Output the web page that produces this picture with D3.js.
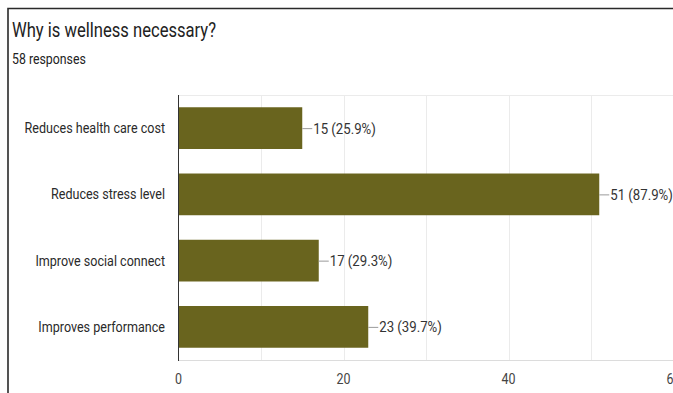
<!DOCTYPE html>
<html><head><meta charset="utf-8">
<script src="https://cdn.jsdelivr.net/npm/d3@7"></script>
<style>
html,body{margin:0;padding:0;background:#fff;overflow:hidden}
text{font-family:Roboto, "Noto Sans", sans-serif}
</style></head>
<body><svg id="c" width="673" height="393"></svg>
<script>
const categories = ["Reduces health care cost","Reduces stress level","Improve social connect","Improves performance"];
const counts = [15, 51, 17, 23];
const percents = ["25.9%","87.9%","29.3%","39.7%"];
const tickValues = [0, 20, 40, 60];
const gridValues = [0,10,20,30,40,50,60];
const title = "Why is wellness necessary?";
const subtitle = "58 responses";

const svg = d3.select("#c");
const pL = 178.5, pR = 673.5, pT = 95, pB = 360;
const x = d3.scaleLinear().domain([0,60]).range([pL, pR]);
const y = d3.scaleBand().domain(categories).range([pT, pB]).paddingInner(0.37).paddingOuter(0.185);

svg.append("rect").attr("width",673).attr("height",393).attr("fill","#fff");
// frame
svg.append("path").attr("d","M8,400 V8.5 H680").attr("fill","none").attr("stroke","#2a2a2a").attr("stroke-width",1.6);

function txt(g, xp, yp, s, size, anchor, color, sx){
  return g.append("text").attr("transform",`translate(${xp},${yp}) scale(${sx},1)`)
    .attr("font-size",size).attr("text-anchor",anchor).attr("fill",color).text(s);
}
txt(svg, 12, 37, title, 20, "start", "#222", 0.83);
txt(svg, 12, 64, subtitle, 14, "start", "#222", 0.88);

// grid
svg.append("g").selectAll("line").data(gridValues.filter(d=>d>0)).join("line")
  .attr("x1",d=>Math.round(x(d))+0.5).attr("x2",d=>Math.round(x(d))+0.5)
  .attr("y1",pT).attr("y2",pB).attr("stroke","#ebebeb").attr("stroke-width",1);
svg.append("line").attr("x1",pL).attr("x2",673).attr("y1",pT+0.5).attr("y2",pT+0.5).attr("stroke","#ebebeb");
svg.append("line").attr("x1",pL).attr("x2",673).attr("y1",pB+0.5).attr("y2",pB+0.5).attr("stroke","#dcdcdc");

// bars
svg.append("g").selectAll("rect").data(categories).join("rect")
  .attr("x",pL).attr("y",d=>y(d)).attr("width",(d,i)=>x(counts[i])-pL).attr("height",y.bandwidth())
  .attr("fill","#69641e");

// axis line
svg.append("line").attr("x1",pL).attr("x2",pL).attr("y1",pT).attr("y2",pB+1).attr("stroke","#333").attr("stroke-width",1);

// category labels
const lg = svg.append("g");
categories.forEach((c,i)=>{
  txt(lg, 165, y(c)+y.bandwidth()/2+5, c, 14.6, "end", "#2a2a2a", 0.86);
});
// value labels
const vg = svg.append("g");
categories.forEach((c,i)=>{
  const xe = x(counts[i]), yc = y(c)+y.bandwidth()/2;
  vg.append("line").attr("x1",xe).attr("x2",xe+10).attr("y1",yc+0.5).attr("y2",yc+0.5).attr("stroke","#9a9a9a");
  txt(vg, xe+11, yc+5.5, `${counts[i]} (${percents[i]})`, 15, "start", "#333", 0.88);
});
// ticks
const tg = svg.append("g");
tickValues.forEach(t=>{
  txt(tg, x(t), 384, String(t), 14.5, "middle", "#444", 0.86);
});
</script></body></html>
